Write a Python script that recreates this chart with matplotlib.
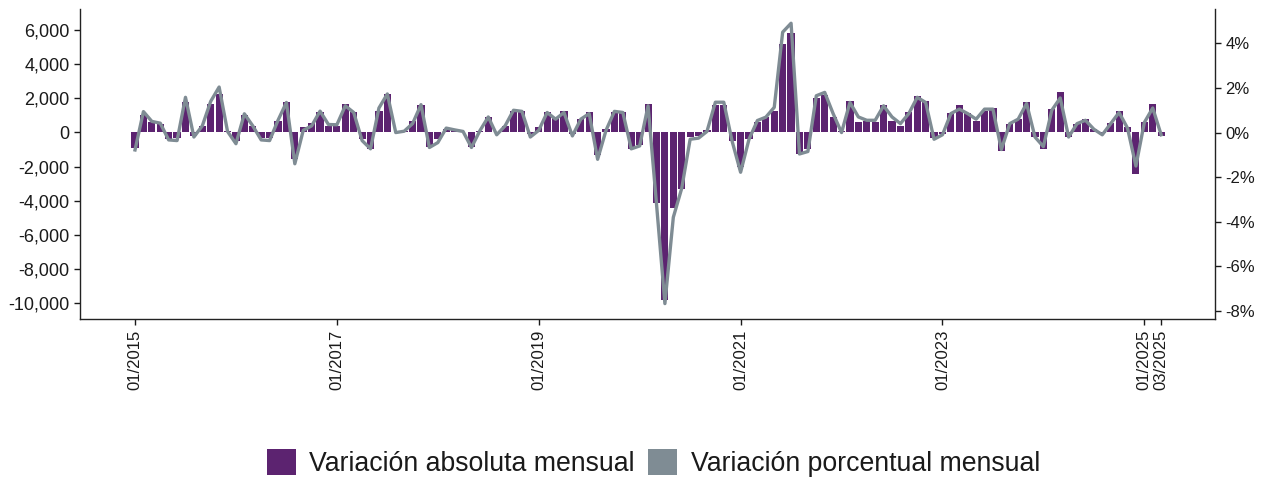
import matplotlib
matplotlib.use("Agg")
import matplotlib.pyplot as plt
from matplotlib.patches import Patch
import numpy as np

plt.rcParams['font.family'] = ['Liberation Sans', 'DejaVu Sans']

# Monthly data 01/2015 .. 03/2025
months = [f"{m:02d}/{y}" for y in range(2015, 2026) for m in range(1, 13)][:123]

abs_var = [
    -900, 1000, 600, 500, -370, -300, 1800, -200, 400, 1670, 2260, 100,      # 2015
    -500, 1000, 400, -350, -350, 700, 1770, -1580, 300, 550, 1190, 400,      # 2016
    400, 1670, 1190, -370, -950, 1280, 2260, 50, 100, 700, 1580, -860,       # 2017
    -370, 200, 150, 50, -870, 100, 900, 50, 400, 1280, 1280, -100,           # 2018
    300, 1190, 900, 1280, -100, 800, 1190, -1300, 200, 1190, 1190, -950,     # 2019
    -760, 1670, -4120, -9800, -4400, -3290, -270, -180, 150, 1580, 1580, -470,  # 2020
    -2020, -370, 640, 900, 1280, 5180, 5800, -1250, -950, 2000, 2200, 900,   # 2021
    100, 1870, 600, 700, 600, 1580, 700, 400, 1190, 2160, 1870, -350,        # 2022
    -100, 1170, 1580, 1170, 700, 1280, 1460, -1100, 520, 800, 1770, -270,    # 2023
    -950, 1380, 2350, -270, 520, 800, 230, -30, 580, 1280, 310, -2450,       # 2024
    640, 1690, -200,                                                         # 2025
]

pct_var = [
    -0.78, 0.94, 0.50, 0.42, -0.33, -0.36, 1.58, -0.20, 0.30, 1.40, 2.04, 0.05,
    -0.50, 0.84, 0.30, -0.33, -0.36, 0.55, 1.35, -1.40, 0.10, 0.30, 0.96, 0.36,
    0.35, 1.20, 0.90, -0.36, -0.73, 1.10, 1.73, 0.00, 0.06, 0.40, 1.25, -0.67,
    -0.45, 0.20, 0.12, 0.05, -0.67, 0.08, 0.70, -0.10, 0.30, 1.00, 0.95, -0.20,
    0.10, 0.90, 0.60, 0.90, -0.15, 0.60, 0.85, -1.20, 0.10, 0.95, 0.90, -0.73,
    -0.60, 1.20, -3.20, -7.67, -3.80, -2.50, -0.30, -0.25, 0.05, 1.36, 1.36, -0.40,
    -1.78, -0.30, 0.54, 0.69, 1.13, 4.50, 4.90, -0.96, -0.85, 1.65, 1.80, 0.85,
    0.00, 1.35, 0.70, 0.55, 0.55, 1.20, 0.70, 0.40, 0.85, 1.58, 1.35, -0.30,
    -0.10, 0.85, 1.05, 0.85, 0.60, 1.05, 1.05, -0.76, 0.40, 0.60, 1.30, -0.20,
    -0.63, 1.00, 1.55, -0.20, 0.40, 0.55, 0.15, -0.10, 0.40, 0.90, 0.20, -1.50,
    0.45, 1.10, -0.10,
]

tick_labels = ["01/2015", "01/2017", "01/2019", "01/2021", "01/2023", "01/2025", "03/2025"]

bar_color = '#5C2370'
line_color = '#7F8C94'
text_color = '#1a1a1a'

x = np.arange(len(months))
tick_pos = [months.index(t) for t in tick_labels]

fig = plt.figure(figsize=(12.66, 4.78), dpi=100)
ax = fig.add_axes([0.0632, 0.3326, 0.8965, 0.6486])
ax.bar(x, abs_var, width=0.85, color=bar_color, linewidth=0)
ax.set_xlim(-6.54, 128.4)
ax.set_ylim(-10920, 7230)
ax.set_yticks(np.arange(-10000, 6001, 2000))
ax.set_yticklabels([f"{v:,}" for v in range(-10000, 6001, 2000)])
ax.set_xticks(tick_pos)
ax.set_xticklabels(tick_labels, rotation=90)

ax2 = ax.twinx()
ax2.plot(x, pct_var, color=line_color, linewidth=2.4)
ax2.set_ylim(-8.36, 5.54)
ax2.set_yticks(np.arange(-8, 5, 2))
ax2.set_yticklabels([f"{v}%" for v in range(-8, 5, 2)])

for a in (ax, ax2):
    a.spines['top'].set_visible(False)
    for s in a.spines.values():
        s.set_color('#222222')
        s.set_linewidth(1.0)
    a.tick_params(colors=text_color, labelsize=12, length=4, width=1)
ax.tick_params(axis='y', labelsize=13)
ax.spines['right'].set_visible(False)
ax2.spines['left'].set_visible(False)
ax2.spines['bottom'].set_visible(False)

handles = [Patch(facecolor=bar_color, edgecolor='none'),
           Patch(facecolor=line_color, edgecolor='none')]
fig.legend(handles, ["Variación absoluta mensual", "Variación porcentual mensual"],
           loc='center', bbox_to_anchor=(0.516, 0.031), ncol=2, frameon=False,
           fontsize=19.2, handlelength=1.1, handleheight=1.1, handletextpad=0.5,
           columnspacing=0.5, labelcolor=text_color)

fig.savefig('out.png', dpi=100)
